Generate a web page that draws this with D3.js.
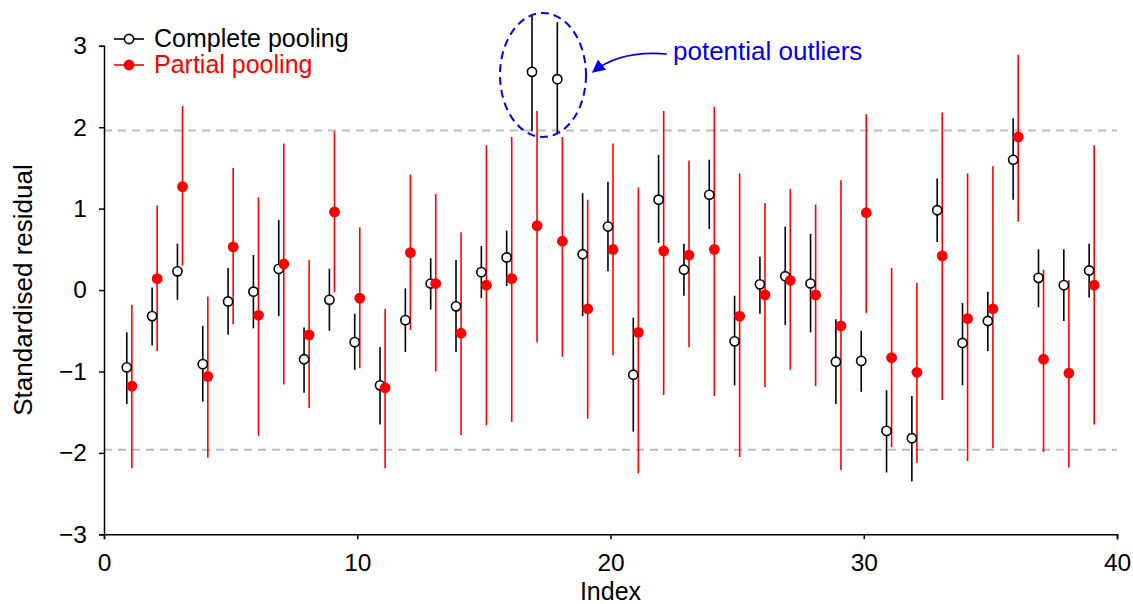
<!DOCTYPE html>
<html>
<head>
<meta charset="utf-8">
<script src="https://cdn.jsdelivr.net/npm/d3@7"></script>
<style>
  body { margin: 0; background: #fff; }
  text { font-family: "Liberation Sans", Arial, Helvetica, sans-serif; }
</style>
</head>
<body>
<div class="chart"></div>
<script>
// complete pooling: centre, lower, upper
const cpMid = [-0.95,-0.32,0.23,-0.91,-0.14,-0.02,0.26,-0.85,-0.12,-0.64,
  -1.17,-0.37,0.08,-0.20,0.22,0.40,2.68,2.59,0.44,0.78,
  -1.04,1.11,0.25,1.17,-0.63,0.07,0.17,0.08,-0.88,-0.87,
  -1.73,-1.82,0.98,-0.65,-0.38,1.60,0.15,0.06,0.24];
const cpLo = [-1.40,-0.68,-0.12,-1.37,-0.55,-0.47,-0.32,-1.26,-0.50,-0.98,
  -1.65,-0.76,-0.24,-0.76,-0.10,0.05,1.95,1.93,-0.32,0.23,
  -1.74,0.58,-0.07,0.75,-1.17,-0.29,-0.43,-0.52,-1.40,-1.25,
  -2.24,-2.35,0.59,-1.17,-0.75,1.11,-0.21,-0.38,-0.09];
const cpHi = [-0.52,0.03,0.57,-0.44,0.27,0.43,0.86,-0.46,0.26,-0.29,
  -0.70,0.02,0.39,0.37,0.54,0.73,3.37,3.29,1.19,1.33,
  -0.34,1.66,0.57,1.60,-0.07,0.41,0.78,0.69,-0.36,-0.50,
  -1.23,-1.30,1.37,-0.16,-0.02,2.11,0.50,0.50,0.57];

// partial pooling: centre, lower, upper
const ppMid = [-1.18,0.14,1.27,-1.06,0.53,-0.31,0.32,-0.55,0.96,-0.10,
  -1.20,0.46,0.08,-0.53,0.06,0.14,0.79,0.60,-0.23,0.50,
  -0.52,0.48,0.43,0.50,-0.32,-0.06,0.12,-0.06,-0.44,0.95,
  -0.83,-1.01,0.42,-0.35,-0.23,1.88,-0.85,-1.02,0.06];
const ppLo = [-2.19,-0.75,0.30,-2.06,-0.42,-1.79,-1.16,-1.45,-0.03,-0.96,
  -2.19,-0.49,-1.00,-1.78,-1.66,-1.62,-0.64,-0.82,-1.58,-0.80,
  -2.25,-1.29,-0.70,-1.30,-2.05,-1.19,-0.98,-1.18,-2.21,-0.28,
  -1.93,-2.12,-1.35,-2.10,-1.94,0.84,-1.99,-2.18,-1.65];
const ppHi = [-0.18,1.04,2.26,-0.08,1.50,1.14,1.80,0.37,1.95,0.77,
  -0.23,1.42,1.18,0.71,1.78,1.88,2.20,1.88,1.11,1.80,
  1.26,2.20,1.59,2.25,1.43,1.07,1.24,1.05,1.35,2.16,
  0.27,0.09,2.18,1.43,1.52,2.89,0.25,0.12,1.78];

const index = d3.range(1, cpMid.length + 1);
const xTicks = [0, 10, 20, 30, 40];
const yTicks = [-3, -2, -1, 0, 1, 2, 3];
const refLines = [-1.96, 1.96];

const W = 1133, H = 604;
const svg = d3.select('.chart').append('svg')
  .attr('width', W).attr('height', H);

const x = d3.scaleLinear().domain([0, 40]).range([104, 1117]);
const y = d3.scaleLinear().domain([-3, 3]).range([534.3, 45.8]);

const fmt = d => d < 0 ? '\u2212' + Math.abs(d) : String(d);

// reference lines at +-1.96
svg.selectAll('.ref').data(refLines).enter().append('line')
  .attr('x1', x(0)).attr('x2', x(40))
  .attr('y1', d => y(d)).attr('y2', d => y(d))
  .attr('stroke', '#bdbdbd').attr('stroke-width', 2)
  .attr('stroke-dasharray', '8,6');

// axes
const xAxis = svg.append('g')
  .attr('transform', 'translate(0,' + y(-3) + ')')
  .call(d3.axisBottom(x).tickValues(xTicks).tickSizeOuter(0).tickSize(5).tickPadding(14));
const yAxis = svg.append('g')
  .attr('transform', 'translate(' + x(0) + ',0)')
  .call(d3.axisLeft(y).tickValues(yTicks).tickFormat(fmt).tickSizeOuter(0).tickSize(5).tickPadding(12));
[xAxis, yAxis].forEach(g => {
  g.select('.domain').attr('stroke', '#000').attr('stroke-width', 1.5);
  g.selectAll('.tick line').attr('stroke', '#000').attr('stroke-width', 1.5);
  g.selectAll('.tick text').attr('font-size', 24.5).attr('fill', '#000')
    .style('font-family', '"Liberation Sans", Arial, sans-serif');
});

// axis titles
svg.append('text').attr('x', x(20)).attr('y', 600)
  .attr('text-anchor', 'middle').attr('font-size', 25).text('Index');
svg.append('text')
  .attr('transform', 'translate(32,' + y(0) + ') rotate(-90)')
  .attr('text-anchor', 'middle').attr('font-size', 26).text('Standardised residual');

// error bars
const cpOff = -0.1, ppOff = 0.1;
svg.selectAll('.cpbar').data(index).enter().append('line')
  .attr('x1', d => x(d + cpOff)).attr('x2', d => x(d + cpOff))
  .attr('y1', (d, i) => y(cpLo[i])).attr('y2', (d, i) => y(cpHi[i]))
  .attr('stroke', '#000').attr('stroke-width', 1.6);
svg.selectAll('.ppbar').data(index).enter().append('line')
  .attr('x1', d => x(d + ppOff)).attr('x2', d => x(d + ppOff))
  .attr('y1', (d, i) => y(ppLo[i])).attr('y2', (d, i) => y(ppHi[i]))
  .attr('stroke', 'red').attr('stroke-width', 1.6);

// points
svg.selectAll('.cp').data(index).enter().append('circle')
  .attr('cx', d => x(d + cpOff)).attr('cy', (d, i) => y(cpMid[i]))
  .attr('r', 4.6).attr('fill', '#fff').attr('stroke', '#000').attr('stroke-width', 1.6);
svg.selectAll('.pp').data(index).enter().append('circle')
  .attr('cx', d => x(d + ppOff)).attr('cy', (d, i) => y(ppMid[i]))
  .attr('r', 5.4).attr('fill', 'red');

// legend
const leg = svg.append('g');
leg.append('line').attr('x1', 114).attr('x2', 144).attr('y1', 39).attr('y2', 39)
  .attr('stroke', '#000').attr('stroke-width', 1.6);
leg.append('circle').attr('cx', 129).attr('cy', 39).attr('r', 4.6)
  .attr('fill', '#fff').attr('stroke', '#000').attr('stroke-width', 1.6);
leg.append('text').attr('x', 154).attr('y', 47).attr('font-size', 25).text('Complete pooling');
leg.append('line').attr('x1', 114).attr('x2', 144).attr('y1', 65).attr('y2', 65)
  .attr('stroke', 'red').attr('stroke-width', 1.6);
leg.append('circle').attr('cx', 129).attr('cy', 65).attr('r', 5.4).attr('fill', 'red');
leg.append('text').attr('x', 154).attr('y', 73).attr('font-size', 25)
  .attr('fill', 'red').text('Partial pooling');

// annotation: ellipse round the outliers, arrow, label
svg.append('ellipse').attr('cx', 543).attr('cy', 75).attr('rx', 43).attr('ry', 62)
  .attr('fill', 'none').attr('stroke', '#0000ee').attr('stroke-width', 2)
  .attr('stroke-dasharray', '8,5');
svg.append('defs').append('marker')
  .attr('id', 'arr').attr('viewBox', '0 0 10 10').attr('refX', 9).attr('refY', 5)
  .attr('markerWidth', 13).attr('markerHeight', 13).attr('markerUnits', 'userSpaceOnUse')
  .attr('orient', 'auto')
  .append('path').attr('d', 'M0,0L10,5L0,10Z').attr('fill', '#0000ee');
svg.append('path').attr('d', 'M667,54 Q620,50 593,72')
  .attr('fill', 'none').attr('stroke', '#0000ee').attr('stroke-width', 1.6)
  .attr('marker-end', 'url(#arr)');
svg.append('text').attr('x', 673).attr('y', 60).attr('font-size', 26)
  .attr('fill', '#0000ee').text('potential outliers');
</script>
</body>
</html>
